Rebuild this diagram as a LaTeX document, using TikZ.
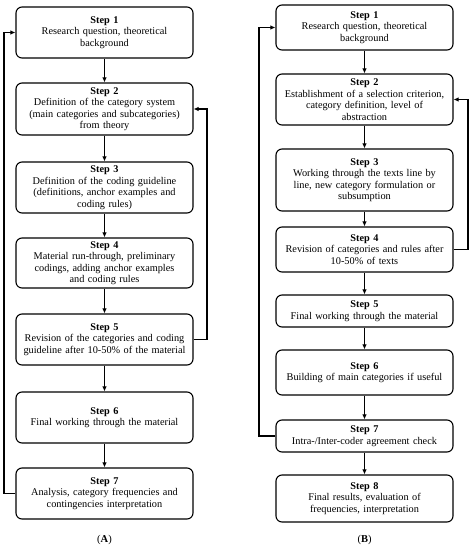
\documentclass[tikz,border=0pt]{standalone}
\usepackage{fontspec}
\setmainfont{Liberation Serif}
\usetikzlibrary{arrows.meta}
\begin{document}
\begin{tikzpicture}[x=1pt,y=-1pt,
  stepbox/.style={draw,line width=1.1pt,rounded corners=6pt,minimum width=177pt,text width=174pt,align=center,inner sep=1pt,font=\fontsize{10.3}{11.5}\selectfont},
  conn/.style={line width=1.1pt,-{Latex[length=5pt,width=4.5pt]}},
  lbl/.style={font=\fontsize{10.5}{12}\selectfont}]
\useasboundingbox (0,0) rectangle (473,550);
% Panel A
\node[stepbox,minimum height=51pt] (a1) at (104.5,32.5) {\textbf{Step 1}\\Research question, theoretical\\background};
\node[stepbox,minimum height=52pt] (a2) at (104.5,109) {\textbf{Step 2}\\Definition of the category system\\(main categories and subcategories)\\from theory};
\node[stepbox,minimum height=51pt] (a3) at (104.5,187.5) {\textbf{Step 3}\\Definition of the coding guideline\\(definitions, anchor examples and\\coding rules)};
\node[stepbox,minimum height=50pt] (a4) at (104.5,263) {\textbf{Step 4}\\Material run-through, preliminary\\codings, adding anchor examples\\and coding rules};
\node[stepbox,minimum height=51pt] (a5) at (104.5,339.5) {\textbf{Step 5}\\Revision of the categories and coding\\guideline after 10-50\% of the material};
\node[stepbox,minimum height=51pt] (a6) at (104.5,417.5) {\textbf{Step 6}\\Final working through the material};
\node[stepbox,minimum height=51pt] (a7) at (104.5,493.5) {\textbf{Step 7}\\Analysis, category frequencies and\\contingencies interpretation};
\node[lbl] (la) at (104.5,540) {(\textbf{A})};
\draw[conn] (a1) -- (a2);
\draw[conn] (a2) -- (a3);
\draw[conn] (a3) -- (a4);
\draw[conn] (a4) -- (a5);
\draw[conn] (a5) -- (a6);
\draw[conn] (a6) -- (a7);
\coordinate (aL) at (4,0);
\coordinate (aR) at (207,0);
\draw[conn] (a7.west) -- (a7.west -| aL) -- (a1.west -| aL) -- (a1.west);
\draw[conn] (a5.east) -- (a5.east -| aR) -- (a2.east -| aR) -- (a2.east);
% Panel B
\node[stepbox,minimum height=45pt] (b1) at (364.5,27.5) {\textbf{Step 1}\\Research question, theoretical\\background};
\node[stepbox,minimum height=51pt] (b2) at (364.5,99.5) {\textbf{Step 2}\\Establishment of a selection criterion,\\category definition, level of\\abstraction};
\node[stepbox,minimum height=62pt] (b3) at (364.5,180) {\textbf{Step 3}\\Working through the texts line by\\line, new category formulation or\\subsumption};
\node[stepbox,minimum height=45pt] (b4) at (364.5,249.5) {\textbf{Step 4}\\Revision of categories and rules after\\10-50\% of texts};
\node[stepbox,minimum height=32pt] (b5) at (364.5,311) {\textbf{Step 5}\\Final working through the material};
\node[stepbox,minimum height=45pt] (b6) at (364.5,372.5) {\textbf{Step 6}\\Building of main categories if useful};
\node[stepbox,minimum height=32pt] (b7) at (364.5,436) {\textbf{Step 7}\\Intra-/Inter-coder agreement check};
\node[stepbox,minimum height=47pt] (b8) at (364.5,498.5) {\textbf{Step 8}\\Final results, evaluation of\\frequencies, interpretation};
\node[lbl] (lb) at (364.5,540) {(\textbf{B})};
\draw[conn] (b1) -- (b2);
\draw[conn] (b2) -- (b3);
\draw[conn] (b3) -- (b4);
\draw[conn] (b4) -- (b5);
\draw[conn] (b5) -- (b6);
\draw[conn] (b6) -- (b7);
\draw[conn] (b7) -- (b8);
\coordinate (bL) at (259,0);
\coordinate (bR) at (468,0);
\draw[conn] (b7.west) -- (b7.west -| bL) -- (b1.west -| bL) -- (b1.west);
\draw[conn] (b4.east) -- (b4.east -| bR) -- (b2.east -| bR) -- (b2.east);
\end{tikzpicture}
\end{document}
